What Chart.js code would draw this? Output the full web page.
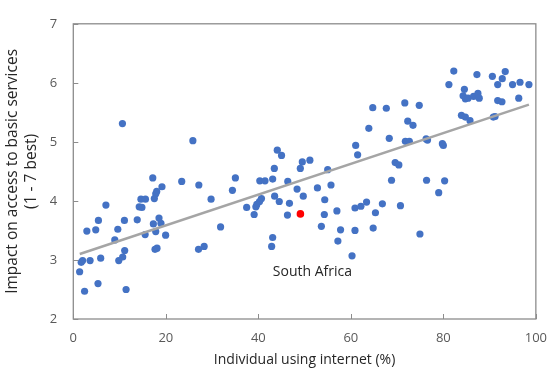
<!DOCTYPE html>
<html><head><meta charset="utf-8">
<script src="https://cdn.jsdelivr.net/npm/chart.js@4"></script>
<style>html,body{margin:0;padding:0;background:#fff}#wrap{width:558px;height:369px;position:relative}</style>
</head><body><div id="wrap"><canvas id="c" width="558" height="369"></canvas></div>
<script>
// Individuals using internet (%)
const internetUse = [
  7.05,14.25,14.83,5.43,11.05,13.82,18.53,2.93,4.85,9.62,17.31,18.95,8.97,15.53,17.82,19.96,
  11.11,10.68,9.83,5.92,3.63,2.01,1.71,1.37,5.34,2.44,11.41,17.67,18.10,27.07,28.29,31.84,
  10.62,25.85,17.18,23.44,27.14,19.17,18.03,17.82,17.52,29.79,14.62,15.60,
  34.40,35.04,40.32,41.45,43.10,46.37,43.53,44.53,40.68,40.26,39.68,39.47,37.48,39.10,46.73,
  48.38,49.72,46.30,43.10,42.88,44.10,45.02,49.51,49.08,51.15,43.46,52.78,55.00,55.71,54.36,
  61.05,61.47,56.99,60.90,54.27,53.63,57.78,60.90,57.20,60.26,62.18,63.40,65.32,66.82,64.83,
  70.73,74.94,68.80,76.37,80.28,79.00,69.59,70.38,
  82.26,87.26,93.38,90.60,92.74,81.20,84.55,91.75,94.96,96.58,98.50,84.27,84.76,85.34,86.54,
  87.48,87.76,91.75,92.67,96.30,83.91,84.76,85.77,90.81,91.18,64.74,67.67,71.67,74.79,63.89,
  72.31,73.44,68.31,71.79,72.65,76.28,76.58,79.79,80.00
];
// Impact on access to basic services (1 - 7 best)
const impactScore = [
  3.93,3.90,3.89,3.67,3.67,3.68,3.71,3.49,3.51,3.52,3.61,3.62,3.34,3.43,3.48,3.42,
  3.16,3.05,2.99,3.03,2.99,2.99,2.96,2.80,2.60,2.47,2.50,3.18,3.20,3.18,3.23,3.56,
  5.31,5.02,4.39,4.33,4.27,4.24,4.16,4.12,4.04,4.03,4.03,4.03,
  4.18,4.39,4.34,4.34,4.37,4.33,4.08,3.99,4.04,3.99,3.94,3.90,3.89,3.77,3.96,
  4.20,4.08,3.76,3.38,3.23,4.86,4.77,4.66,4.55,4.69,4.55,4.22,4.53,4.27,4.02,
  4.94,4.78,3.83,3.88,3.77,3.57,3.51,3.50,3.32,3.07,3.91,3.98,3.80,3.95,3.54,
  3.92,3.44,4.35,4.35,4.34,4.14,4.65,4.61,
  6.20,6.14,6.19,6.11,6.07,5.97,5.89,5.97,5.97,6.01,5.97,5.78,5.73,5.74,5.77,
  5.82,5.74,5.70,5.68,5.74,5.45,5.42,5.36,5.42,5.43,5.58,5.57,5.66,5.62,5.23,
  5.35,5.28,5.06,5.01,5.01,5.05,5.03,4.97,4.94
];
const highlightName = 'South Africa';
const highlightInternet = [49.1];
const highlightImpact = [3.78];
const trendInternet = [1.4, 98.5];
const trendImpact = [3.10, 5.63];
const xTickValues = [0, 20, 40, 60, 80, 100];
const yTickValues = [2, 3, 4, 5, 6, 7];
const xTitle = 'Individual using internet (%)';
const yTitle = ['Impact on access to basic services', '(1 - 7 best)'];

const FONT = "'Open Sans', 'Noto Sans', sans-serif";
const toPts = (xs, ys) => xs.map((x, i) => ({x, y: ys[i]}));

const framePlugin = {
  id: 'frame',
  afterDraw(chart) {
    const {ctx, chartArea: a, scales: {x, y}} = chart;
    ctx.save();
    ctx.strokeStyle = '#8c8c8c';
    ctx.lineWidth = 1.3;
    ctx.strokeRect(a.left, a.top, a.right - a.left, a.bottom - a.top);
    ctx.lineWidth = 1;
    ctx.beginPath();
    xTickValues.forEach(v => {
      const px = Math.round(x.getPixelForValue(v)) + 0.5;
      ctx.moveTo(px, a.bottom); ctx.lineTo(px, a.bottom - 5);
    });
    yTickValues.forEach(v => {
      const py = Math.round(y.getPixelForValue(v)) + 0.5;
      ctx.moveTo(a.left, py); ctx.lineTo(a.left + 5, py);
    });
    ctx.stroke();
    const hx = x.getPixelForValue(highlightInternet[0]);
    const hy = y.getPixelForValue(highlightImpact[0]);
    ctx.fillStyle = '#262626';
    ctx.font = "14px " + FONT;
    ctx.textAlign = 'center';
    ctx.textBaseline = 'middle';
    ctx.fillText(highlightName, hx + 12, hy + 58);
    ctx.restore();
  }
};

new Chart(document.getElementById('c'), {
  type: 'scatter',
  data: {
    datasets: [
      {
        label: highlightName,
        data: toPts(highlightInternet, highlightImpact),
        backgroundColor: '#FF0000', borderColor: '#FF0000',
        pointRadius: 3.8, pointBorderWidth: 0, order: 0
      },
      {
        type: 'line',
        label: 'Trend',
        data: toPts(trendInternet, trendImpact),
        borderColor: '#A5A5A5', borderWidth: 2.5,
        pointRadius: 0, fill: false, order: 1
      },
      {
        label: 'Countries',
        data: toPts(internetUse, impactScore),
        backgroundColor: '#4472C4', borderColor: '#4472C4',
        pointRadius: 3.6, pointBorderWidth: 0, order: 2
      }
    ]
  },
  options: {
    responsive: false,
    animation: false,
    devicePixelRatio: 1,
    layout: {padding: {top: 13, right: 16.5, left: 0, bottom: 0}},
    plugins: {legend: {display: false}, tooltip: {enabled: false}, title: {display: false}},
    scales: {
      x: {
        type: 'linear', min: 0, max: 100,
        afterFit: s => { s.height = 50; },
        afterBuildTicks: s => { s.ticks = xTickValues.map(v => ({value: v})); },
        grid: {display: false, drawTicks: false},
        border: {display: false},
        ticks: {padding: 11, color: '#595959', font: {size: 13, family: FONT}},
        title: {display: true, text: xTitle, color: '#262626', padding: {top: 0, bottom: 1},
                font: {size: 14, family: FONT}}
      },
      y: {
        type: 'linear', min: 2, max: 7,
        afterFit: s => { s.width = 73.3; },
        afterBuildTicks: s => { s.ticks = yTickValues.map(v => ({value: v})); },
        grid: {display: false, drawTicks: false},
        border: {display: false},
        ticks: {padding: 16, color: '#595959', font: {size: 13, family: FONT}},
        title: {display: true, text: yTitle, color: '#262626', padding: {top: 4, bottom: 0},
                font: {size: 15.5, family: FONT, lineHeight: 1.17}}
      }
    }
  },
  plugins: [framePlugin]
});
</script>
</body></html>
